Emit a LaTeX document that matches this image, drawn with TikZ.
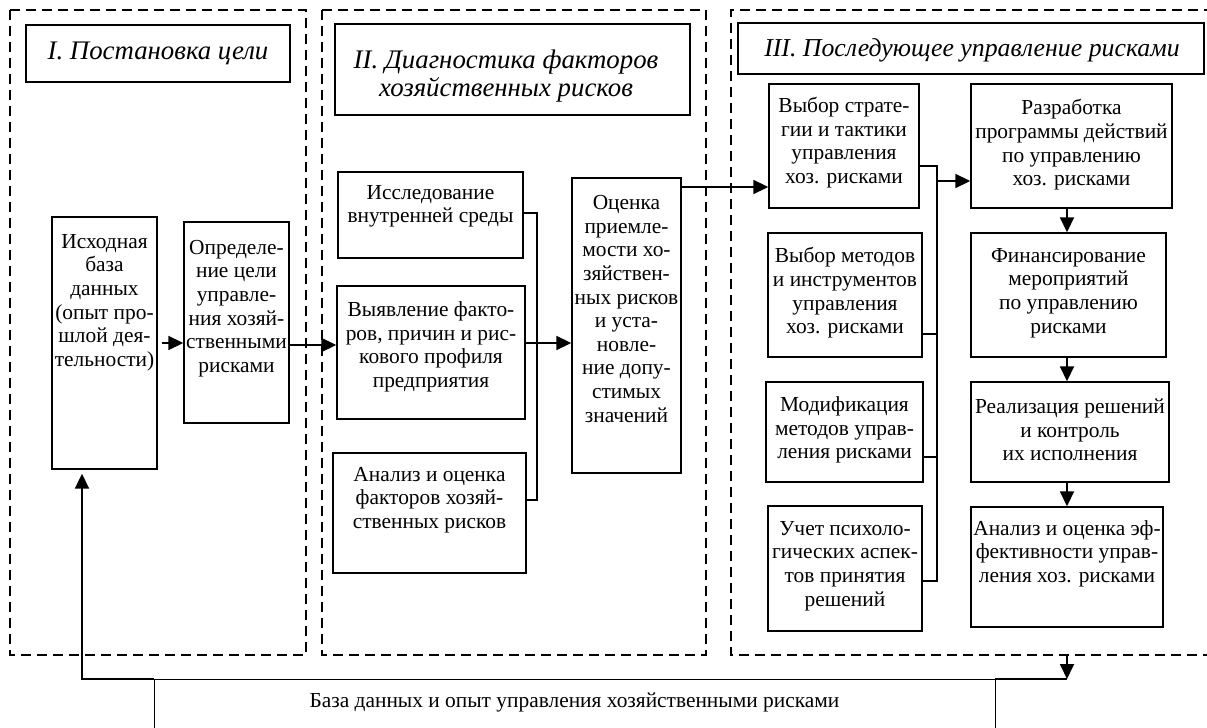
\documentclass[tikz,border=0pt]{standalone}
\usepackage{fontspec}
\setmainfont{Liberation Serif}
\usetikzlibrary{arrows.meta}
\newcommand{\bfnt}{\fontsize{10.7}{11.8}\selectfont}
\newcommand{\tfnt}{\fontsize{13.4}{13.6}\selectfont\itshape}
\newcommand{\tfntb}{\fontsize{12.9}{13.6}\selectfont\itshape}
\tikzset{
  box/.style={draw, line width=0.7pt, inner sep=0pt},
  ttl/.style={draw, line width=1.4pt, inner sep=0pt, align=center, font=\tfnt},
  ttltxt/.style={inner sep=0pt, align=center, font=\tfnt},
  txt/.style={align=center, inner sep=0pt, font=\bfnt},
  panel/.style={draw, dash pattern=on 5pt off 3pt, line width=0.8pt},
  ln/.style={line width=0.9pt},
  thinln/.style={line width=0.5pt},
  arr/.style={line width=0.9pt, -{Triangle[length=7.5pt,width=7pt]}}
}
\begin{document}
\begin{tikzpicture}[x=0.5pt,y=-0.5pt]
\useasboundingbox (0,0) rectangle (1207,728);
\clip (0,0) rectangle (1207,728);
% panels
\draw[panel] (10,10) rectangle (306,655);
\draw[panel] (322,10) rectangle (706,655);
\draw[panel] (1230,10) -- (731,10) -- (731,655) -- (1230,655);
% titles
\node[ttl, minimum width=132pt, minimum height=28.5pt] (t1) at (158,53.5) {I. Постановка цели};
\node[ttl, minimum width=177.5pt, minimum height=45.5pt] (t2) at (512.5,69.5) {};
\node[ttltxt] (t2-t) at (506,76) {II. Диагностика факторов\\хозяйственных рисков};
\node[ttl, minimum width=233pt, minimum height=25.5pt] (t3) at (971,48.5) {};
\node[ttltxt, font=\tfntb] (t3-t) at (972,50) {III. Последующее управление рисками};
% panel I boxes
\node[box, minimum width=52.5pt, minimum height=126pt] (isx) at (104.5,343) {};
\node[txt] (isx-t) at (104.5,302.5) {Исходная\\база\\данных\\(опыт про-\\шлой дея-\\тельности)};
\node[box, minimum width=52.5pt, minimum height=100.5pt] (opr) at (236.5,322.5) {};
\node[txt] (opr-t) at (236.5,308.5) {Определе-\\ние цели\\управле-\\ния хозяй-\\ственными\\рисками};
% panel II boxes
\node[box, minimum width=92.5pt, minimum height=43pt] (iss) at (430.5,215) {};
\node[txt] (iss-t) at (430.5,206.5) {Исследование\\внутренней среды};
\node[box, minimum width=94pt, minimum height=66.5pt] (vyy) at (431,352.5) {};
\node[txt] (vyy-t) at (431,347) {Выявление факто-\\ров, причин и рис-\\кового профиля\\предприятия};
\node[box, minimum width=96.5pt, minimum height=60pt] (an2) at (429.5,513) {};
\node[txt] (an2-t) at (429.5,500) {Анализ и оценка\\факторов хозяй-\\ственных рисков};
\node[box, minimum width=54.5pt, minimum height=147.5pt] (ocn) at (626.5,325.5) {};
\node[txt] (ocn-t) at (626.5,309) {Оценка\\приемле-\\мости хо-\\зяйствен-\\ных рисков\\и уста-\\новле-\\ние допу-\\стимых\\значений};
% panel III boxes
\node[box, minimum width=75pt, minimum height=62pt] (vs) at (844,146) {};
\node[txt] (vs-t) at (844,142.5) {Выбор страте-\\гии и тактики\\управления\\хоз. рисками};
\node[box, minimum width=100.5pt, minimum height=62pt] (razr) at (1071.5,146) {};
\node[txt] (razr-t) at (1071.5,145) {Разработка\\программы действий\\по управлению\\хоз. рисками};
\node[box, minimum width=77pt, minimum height=62pt] (vm) at (845,295) {};
\node[txt] (vm-t) at (845,293) {Выбор методов\\и инструментов\\управления\\хоз. рисками};
\node[box, minimum width=97.5pt, minimum height=62pt] (fin) at (1068.5,295) {};
\node[txt] (fin-t) at (1068.5,293) {Финансирование\\мероприятий\\по управлению\\рисками};
\node[box, minimum width=78.5pt, minimum height=50pt] (mod) at (844.5,432) {};
\node[txt] (mod-t) at (844.5,430) {Модификация\\методов управ-\\ления рисками};
\node[box, minimum width=99pt, minimum height=50pt] (real) at (1070,432) {};
\node[txt] (real-t) at (1070,430) {Реализация решений\\и контроль\\их исполнения};
\node[box, minimum width=77pt, minimum height=62.5pt] (uch) at (845,568.5) {};
\node[txt] (uch-t) at (845,566) {Учет психоло-\\гических аспек-\\тов принятия\\решений};
\node[box, minimum width=96pt, minimum height=60pt] (anef) at (1067,567) {};
\node[txt] (anef-t) at (1067,553.5) {Анализ и оценка эф-\\фективности управ-\\ления хоз. рисками};
% bottom box
\coordinate (dbtl) at (154,679);
\coordinate (dbtr) at (995,679);
\draw[thinln] (154,760) -- (dbtl) -- (dbtr) -- (995,760);
\node[txt] (db) at (574.5,702) {База данных и опыт управления хозяйственными рисками};
% helper coordinates
\coordinate (y345) at (0,345);
\coordinate (y343) at (0,343);
\coordinate (y187) at (0,187);
\coordinate (b2t) at (537,213);
\coordinate (b2b) at (537,500);
\coordinate (b3) at (937,166);
\coordinate (y181) at (0,181);
\coordinate (y334) at (0,334);
\coordinate (y457) at (0,457);
\coordinate (y581) at (0,581);
\coordinate (cx) at (1067,655);
\coordinate (fb) at (82,679);
% connectors panel I
\draw[arr, shorten <=2pt] (isx.east) -- (opr.west |- isx.east);
\draw[arr] (opr.east |- y345) -- (vyy.west |- y345);
% panel II
\draw[ln] (iss.east |- b2t) -- (b2t) -- (b2b) -- (an2.east |- b2b);
\draw[arr] (vyy.east |- y343) -- (ocn.west |- y343);
\draw[arr] (ocn.east |- y187) -- (vs.west |- y187);
% panel III
\draw[ln] (vs.east |- b3) -- (b3) -- (b3 |- y581) -- (uch.east |- y581);
\draw[ln] (vm.east |- y334) -- (b3 |- y334);
\draw[ln] (mod.east |- y457) -- (b3 |- y457);
\draw[arr] (b3 |- y181) -- (razr.west |- y181);
\draw[arr] (cx |- razr.south) -- (cx |- fin.north);
\draw[arr] (cx |- fin.south) -- (cx |- real.north);
\draw[arr] (cx |- real.south) -- (cx |- anef.north);
% bottom
\draw[arr] (cx) -- (cx |- dbtr);
\draw[ln] (dbtr) -- (cx |- dbtr);
\draw[arr, shorten >=2pt] (dbtl) -- (fb) -- (fb |- isx.south);
\end{tikzpicture}
\end{document}
